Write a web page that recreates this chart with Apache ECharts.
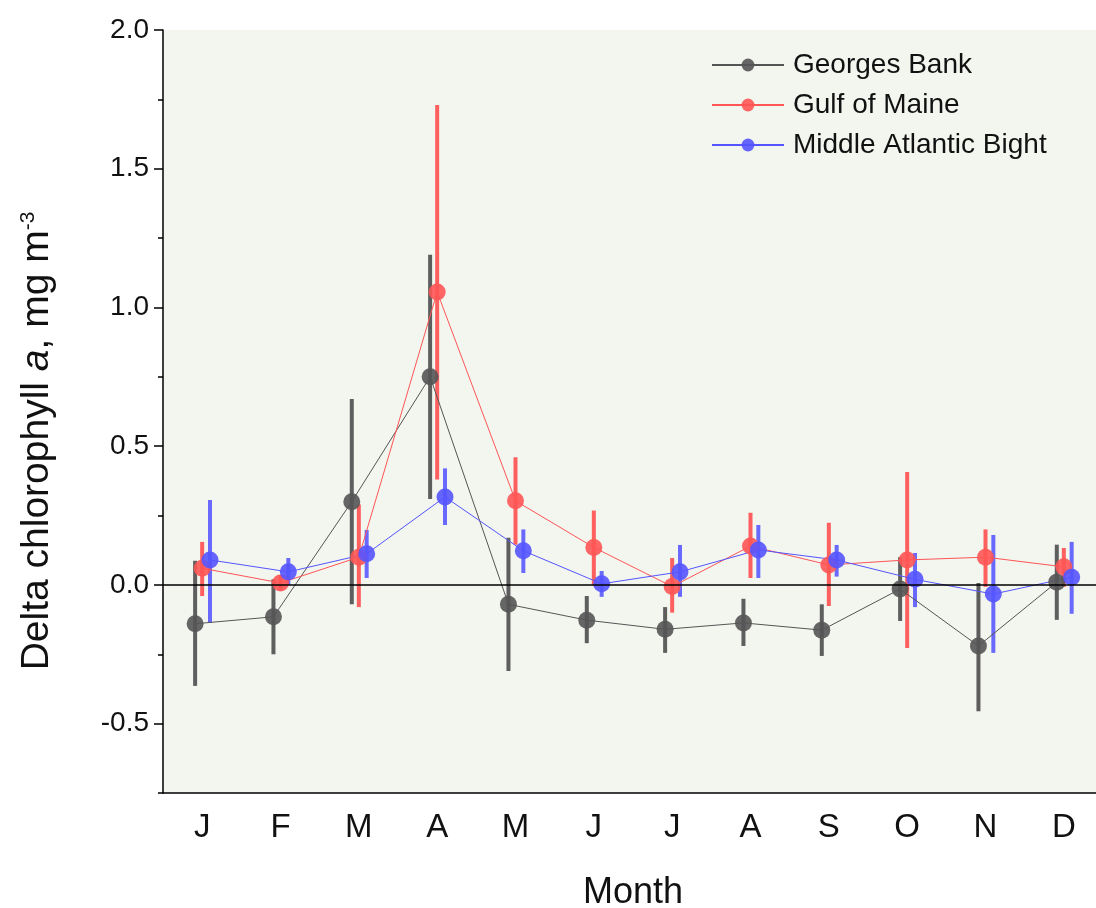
<!DOCTYPE html>
<html>
<head>
<meta charset="utf-8">
<script src="https://cdn.jsdelivr.net/npm/echarts@6/dist/echarts.min.js"></script>
<style>
  html, body { margin: 0; padding: 0; background: #fff; }
  #chart { width: 1096px; height: 908px; }
</style>
</head>
<body>
<div id="chart"></div>
<script>
// 月份
var months = ['J', 'F', 'M', 'A', 'M', 'J', 'J', 'A', 'S', 'O', 'N', 'D'];
var yTicks = [-0.5, 0, 0.5, 1, 1.5, 2];

// Georges Bank
var gbMean = [-0.14, -0.115, 0.30, 0.75, -0.07, -0.127, -0.16, -0.137, -0.163, -0.015, -0.22, 0.01];
var gbHigh = [0.087, 0.02, 0.67, 1.19, 0.17, -0.04, -0.08, -0.05, -0.07, 0.10, 0.007, 0.145];
var gbLow = [-0.364, -0.25, -0.07, 0.31, -0.31, -0.21, -0.245, -0.22, -0.256, -0.13, -0.455, -0.126];

// Gulf of Maine
var gomMean = [0.06, 0.007, 0.10, 1.056, 0.303, 0.135, -0.006, 0.14, 0.072, 0.09, 0.10, 0.065];
var gomHigh = [0.155, 0.035, 0.29, 1.73, 0.46, 0.268, 0.097, 0.26, 0.224, 0.407, 0.20, 0.133];
var gomLow = [-0.04, -0.02, -0.08, 0.38, 0.145, 0.0, -0.1, 0.025, -0.076, -0.227, -0.007, -0.007];

// Middle Atlantic Bight
var mabMean = [0.09, 0.047, 0.112, 0.317, 0.123, 0.004, 0.047, 0.126, 0.09, 0.02, -0.033, 0.028];
var mabHigh = [0.306, 0.097, 0.198, 0.42, 0.2, 0.05, 0.144, 0.216, 0.144, 0.115, 0.18, 0.155];
var mabLow = [-0.137, 0.0, 0.025, 0.216, 0.043, -0.043, -0.043, 0.025, 0.03, -0.08, -0.245, -0.104];

var FONT = "'Liberation Sans', Arial, sans-serif";

var myChart = echarts.init(document.getElementById('chart'));

// 平均值点（横向错开）
function pts(mean, shift) {
    return mean.map(function (v, i) { return [i + shift, v]; });
}
// 误差棒数据
function bars(low, high, shift) {
    return low.map(function (v, i) { return [i + shift, v, high[i]]; });
}

function errSeries(low, high, shift, color) {
    return {
        type: 'custom',
        xAxisIndex: 1,
        silent: true,
        data: bars(low, high, shift),
        encode: { x: 0, y: [1, 2] },
        renderItem: function (params, api) {
            var a = api.coord([api.value(0), api.value(1)]);
            var b = api.coord([api.value(0), api.value(2)]);
            return {
                type: 'line',
                shape: { x1: a[0], y1: a[1], x2: b[0], y2: b[1] },
                style: { stroke: color, lineWidth: 4 }
            };
        }
    };
}

function lineSeries(name, mean, shift, color, extra) {
    var s = {
        name: name,
        type: 'line',
        xAxisIndex: 1,
        data: pts(mean, shift),
        symbol: 'circle',
        symbolSize: 17,
        showSymbol: true,
        silent: true,
        lineStyle: { color: color, width: 1 },
        itemStyle: { color: color, opacity: 0.9 }
    };
    if (extra) { for (var k in extra) s[k] = extra[k]; }
    return s;
}

var option = {
    animation: false,
    backgroundColor: '#ffffff',
    grid: {
        left: 163, top: 30, bottom: 115, right: -7,
        outerBoundsMode: 'none',
        containLabel: false,
        show: true, backgroundColor: '#f3f5ef', borderWidth: 0
    },
    legend: {
        orient: 'vertical',
        left: 711, top: 51,
        itemWidth: 72, itemHeight: 16, itemGap: 12,
        padding: 0,
        data: ['Georges Bank', 'Gulf of Maine', 'Middle Atlantic Bight'],
        textStyle: { fontFamily: FONT, fontSize: 28, color: '#111', padding: [0, 0, 0, 4] }
    },
    xAxis: [{
        type: 'category',
        data: months,
        boundaryGap: true,
        axisLine: { onZero: false, lineStyle: { color: '#000', width: 1.5 } },
        axisTick: { alignWithLabel: true, length: 10, lineStyle: { color: '#000', width: 1.5 } },
        axisLabel: { fontFamily: FONT, fontSize: 33, color: '#111', margin: 18 },
        splitLine: { show: false },
        name: 'Month',
        nameLocation: 'middle',
        nameGap: 82,
        nameTextStyle: { fontFamily: FONT, fontSize: 36, color: '#111' }
    }, {
        type: 'value',
        min: -0.5, max: 11.5,
        show: false
    }],
    yAxis: [{
        type: 'value',
        min: -0.75, max: 2,
        axisLine: { show: true, onZero: false, lineStyle: { color: '#000', width: 1.5 } },
        axisTick: { show: true, length: 9, customValues: yTicks, lineStyle: { color: '#000', width: 1.5 } },
        axisLabel: {
            customValues: yTicks,
            fontFamily: FONT, fontSize: 28, color: '#111', margin: 14,
            formatter: function (v) { return v.toFixed(1); }
        },
        splitLine: { show: false }
    }, {
        // 次刻度
        type: 'value',
        position: 'left',
        min: -0.75, max: 2, interval: 0.25,
        axisLine: { show: false, onZero: false },
        axisTick: { show: true, length: 5, lineStyle: { color: '#000', width: 1.5 } },
        axisLabel: { show: false },
        splitLine: { show: false }
    }],
    graphic: [{
        type: 'text',
        x: 37, y: 441,
        rotation: Math.PI / 2,
        style: {
            text: '{n|Delta chlorophyll }{i|a}{n|, mg m}{s|-3}',
            align: 'center',
            verticalAlign: 'middle',
            fill: '#111',
            rich: {
                n: { fontFamily: FONT, fontSize: 39, fill: '#111' },
                i: { fontFamily: FONT, fontSize: 39, fontStyle: 'italic', fill: '#111' },
                s: { fontFamily: FONT, fontSize: 21, fill: '#111', verticalAlign: 'top' }
            }
        }
    }],
    series: [
        errSeries(gbLow, gbHigh, -0.09, 'rgba(85,85,85,0.95)'),
        lineSeries('Georges Bank', gbMean, -0.09, '#555555', {
            markLine: {
                silent: true,
                symbol: 'none',
                label: { show: false },
                lineStyle: { color: '#000', width: 1.5, type: 'solid' },
                data: [{ yAxis: 0 }]
            }
        }),
        errSeries(gomLow, gomHigh, 0, 'rgba(255,75,75,0.88)'),
        lineSeries('Gulf of Maine', gomMean, 0, '#ff5555'),
        errSeries(mabLow, mabHigh, 0.1, 'rgba(80,80,255,0.85)'),
        lineSeries('Middle Atlantic Bight', mabMean, 0.1, '#5555ff')
    ]
};

myChart.setOption(option);
</script>
</body>
</html>
